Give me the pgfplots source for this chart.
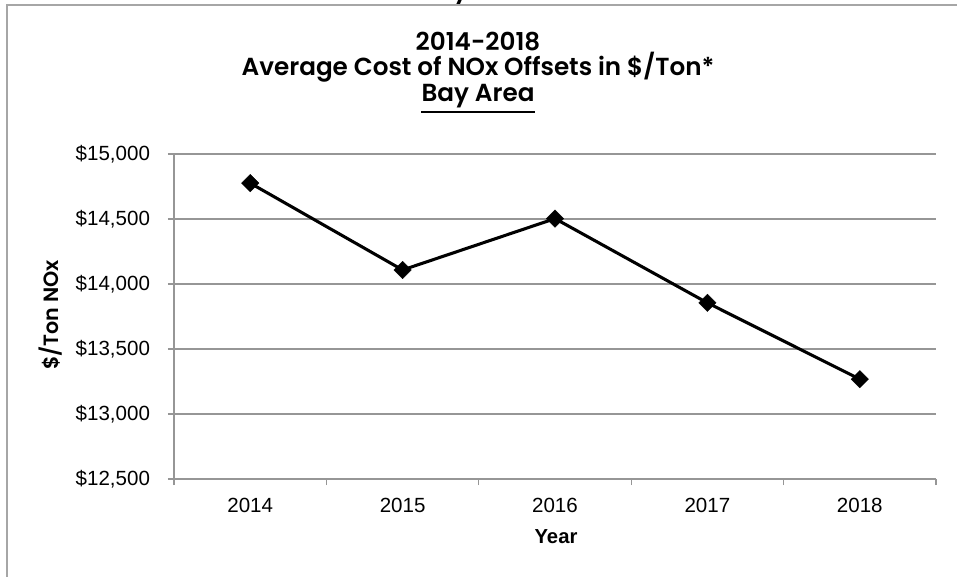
\documentclass[border=0pt]{standalone}
\usepackage{fontspec}
\setmainfont{Liberation Sans}
\newfontfamily\titlefont{Poppins}[BoldFont={Poppins SemiBold}]
\usepackage{pgfplots}
\pgfplotsset{compat=1.18}
\definecolor{gridgray}{HTML}{969696}
\definecolor{framegray}{HTML}{A6A6A6}

\begin{document}
\begin{tikzpicture}
% picture laid out in pixels of the 957x577 reference, 1px = 0.75pt
\begin{scope}[x=0.75pt,y=-0.75pt]
  \useasboundingbox (0,0) rectangle (957,577);
  % remains of a line above the frame, cut off by the screenshot
  \begin{scope}
    \clip (0,0) rectangle (957,4);
    \node[anchor=base, inner sep=0pt, font=\titlefont\bfseries\fontsize{18.5}{22}\selectfont] at (461,-1) {y};
  \end{scope}
  \draw[framegray, line width=1.5pt] (7,577) -- (7,5) -- (957,5);
  \tikzset{ttl/.style={anchor=base, inner sep=0pt, font=\titlefont\bfseries\fontsize{18.5}{22}\selectfont}}
  \node[ttl] at (478,51) {2014-2018};
  \node[ttl] at (478,76) {Average Cost of NOx Offsets in \$/Ton*};
  \node[ttl] (bay) at (478,102) {Bay Area};
  \draw[black, line width=1.4pt] ([yshift=-7.5pt]bay.base west) -- ([yshift=-7.5pt]bay.base east);
  \node[anchor=base, inner sep=0pt, font=\bfseries\fontsize{15.2}{18}\selectfont] at (556,543) {Year};
  \node[font=\titlefont\bfseries\fontsize{15.5}{18}\selectfont, rotate=90] at (51,315) {\$/Ton NOx};
\end{scope}

\begin{axis}[
    scale only axis,
    width=571.5pt, height=243.75pt,
    at={(130.5pt,-359.25pt)}, anchor=south west,
    xmin=-0.5, xmax=4.5,
    ymin=12500, ymax=15000,
    axis x line=bottom, axis y line=left,
    axis line style={gridgray, line width=0.9pt, -},
    xtick={0,1,2,3,4},
    xticklabels={2014,2015,2016,2017,2018},
    minor xtick={-0.5,0.5,1.5,2.5,3.5,4.5},
    ytick={12500,13000,13500,14000,14500,15000},
    scaled y ticks=false,
    yticklabel={\$\pgfmathprintnumber[fixed,precision=0,1000 sep={,},assume math mode=true]{\tick}},
    tick align=outside,
    major tick length=4.5pt, minor tick length=4.5pt,
    x tick style={draw=none},
    minor x tick style={draw=gridgray, line width=0.9pt},
    y tick style={gridgray, line width=0.9pt},
    ymajorgrids=true,
    grid style={gridgray, line width=0.9pt},
    tick label style={font=\fontsize{15.4}{18}\selectfont},
    yticklabel style={xshift=-10pt},
    xticklabel style={yshift=-6pt},
    clip=false,
]
\addplot[black, line width=2.3pt, mark=square*, mark size=4.6pt,
    mark options={rotate=45, solid, fill=black, line width=0.3pt}]
    coordinates {(0,14776) (1,14108) (2,14503) (3,13855) (4,13268)};
\end{axis}
\end{tikzpicture}
\end{document}
